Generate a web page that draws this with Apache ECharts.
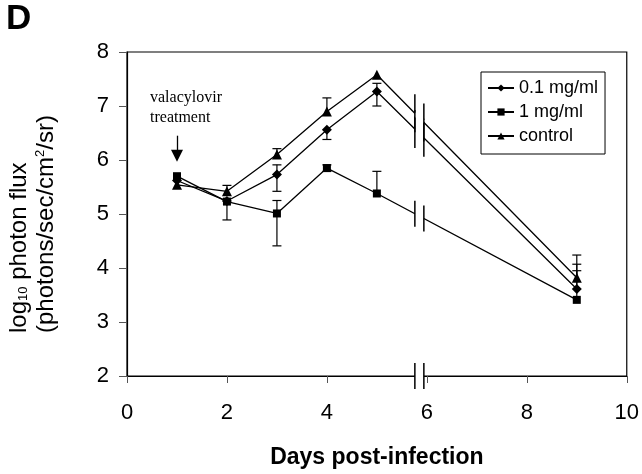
<!DOCTYPE html>
<html>
<head>
<meta charset="utf-8">
<script src="https://cdn.jsdelivr.net/npm/echarts@6/dist/echarts.min.js"></script>
<style>html,body{margin:0;padding:0;background:#fff}#c{width:642px;height:474px}</style>
</head>
<body>
<div id="c"></div>
<script>
// ---- data ----
const days = [1, 2, 3, 4, 5, 9];
const seriesNames = ['0.1 mg/ml', '1 mg/ml', 'control'];
const dose01 = [5.62, 5.24, 5.73, 6.56, 7.27, 3.61];
const dose1 = [5.70, 5.23, 5.01, 5.85, 5.38, 3.41];
const control = [5.54, 5.42, 6.10, 6.90, 7.58, 3.82];
const dose01Up = [0, 0, 0.18, 0, 0.15, 0.46];
const dose01Down = [0, 0, 0.31, 0.18, 0.27, 0];
const dose1Up = [0, 0, 0.24, 0.06, 0.41, 0.54];
const dose1Down = [0, 0.34, 0.60, 0.06, 0, 0];
const controlUp = [0, 0.11, 0.11, 0.25, 0, 0.42];
const controlDown = [0, 0, 0, 0, 0, 0];
const xTicks = [0, 2, 4, 6, 8, 10];
const yTicks = [2, 3, 4, 5, 6, 7, 8];

// ---- rendering ----
const FONT = "'Liberation Sans', Arial, sans-serif";
const SERIF = "'Liberation Serif', 'Times New Roman', serif";
const chart = echarts.init(document.getElementById('c'));

const values = [dose01, dose1, control];
const ups = [dose01Up, dose1Up, controlUp];
const downs = [dose01Down, dose1Down, controlDown];
const symbols = ['diamond', 'rect', 'triangle'];
const symbolSizes = [10, 8, 10];

function errData(k) {
  return days.map((d, i) => [d, values[k][i], ups[k][i], downs[k][i]]);
}

// break marks between day 5 and day 9
const BX1 = 5.76, BX2 = 5.94;
function interp(arr, x) {
  const a = arr[4], b = arr[5];
  return a + (b - a) * (x - days[4]) / (days[5] - days[4]);
}
const breakData = values.map((arr, k) => [BX1, interp(arr, BX1), BX2, interp(arr, BX2), k]);
breakData.push([BX1, yTicks[0], BX2, yTicks[0], 3]);
const breakHalf = [19, 13, 19, 13];

const lineSeries = seriesNames.map((name, k) => ({
  name: name,
  type: 'line',
  data: days.map((d, i) => [d, values[k][i]]),
  symbol: symbols[k],
  symbolSize: symbolSizes[k],
  showAllSymbol: true,
  itemStyle: { color: '#000' },
  lineStyle: { color: '#000', width: 1.3 },
  z: 3
}));

const errSeries = seriesNames.map((name, k) => ({
  type: 'custom',
  data: errData(k),
  z: 4,
  silent: true,
  renderItem: function (params, api) {
    const x = api.value(0), y = api.value(1), up = api.value(2), dn = api.value(3);
    const top = api.coord([x, y + up]);
    const bot = api.coord([x, y - dn]);
    const hw = 4.5;
    const st = { stroke: '#000', lineWidth: 1.2 };
    const ch = [];
    if (up > 0 || dn > 0) {
      ch.push({ type: 'line', shape: { x1: top[0], y1: top[1], x2: bot[0], y2: bot[1] }, style: st });
    }
    if (up > 0) ch.push({ type: 'line', shape: { x1: top[0] - hw, y1: top[1], x2: top[0] + hw, y2: top[1] }, style: st });
    if (dn > 0) ch.push({ type: 'line', shape: { x1: bot[0] - hw, y1: bot[1], x2: bot[0] + hw, y2: bot[1] }, style: st });
    return { type: 'group', children: ch };
  }
}));

const breakSeries = {
  type: 'custom',
  data: breakData,
  z: 6,
  silent: true,
  encode: { x: [0, 2], y: [1, 3] },
  renderItem: function (params, api) {
    const p1 = api.coord([api.value(0), api.value(1)]);
    const p2 = api.coord([api.value(2), api.value(3)]);
    const h = breakHalf[api.value(4)];
    const st = { stroke: '#000', lineWidth: 1.5 };
    return {
      type: 'group',
      children: [
        { type: 'line', shape: { x1: p1[0], y1: p1[1], x2: p2[0], y2: p2[1] }, style: { stroke: '#fff', lineWidth: 5 } },
        { type: 'line', shape: { x1: p1[0], y1: p1[1] - h, x2: p1[0], y2: p1[1] + h }, style: st },
        { type: 'line', shape: { x1: p2[0], y1: p2[1] - h, x2: p2[0], y2: p2[1] + h }, style: st }
      ]
    };
  }
};

// arrow marking the treatment day
lineSeries[2].markLine = {
  silent: true,
  symbol: ['none', 'triangle'],
  symbolSize: 12,
  symbolRotate: 180,
  label: { show: false },
  lineStyle: { color: '#000', width: 1.3, type: 'solid' },
  itemStyle: { color: '#000' },
  emphasis: { disabled: true },
  data: [[{ coord: [days[0], 6.45] }, { coord: [days[0], 6.08] }]]
};

const option = {
  animation: false,
  backgroundColor: '#fff',
  title: {
    text: 'D', left: 6, top: 2, padding: 0,
    textStyle: { fontSize: 35, fontWeight: 'bold', color: '#000', fontFamily: FONT }
  },
  legend: {
    data: seriesNames,
    orient: 'vertical',
    left: 481, top: 72,
    padding: [7, 7, 9, 6],
    itemGap: 6,
    itemWidth: 26,
    itemHeight: 9,
    borderColor: '#000',
    borderWidth: 1,
    textStyle: { fontSize: 18, color: '#000', fontFamily: FONT }
  },
  grid: {
    left: 127, right: 15, top: 52, bottom: 94,
    show: true, borderColor: '#000', borderWidth: 1.2, backgroundColor: 'transparent'
  },
  xAxis: {
    type: 'value', min: xTicks[0], max: xTicks[xTicks.length - 1], interval: 2,
    name: 'Days post-infection', nameLocation: 'middle', nameGap: 70,
    nameTextStyle: { fontSize: 23, fontWeight: 'bold', color: '#000', fontFamily: FONT },
    axisLine: { lineStyle: { color: '#000', width: 1.2 } },
    axisTick: { show: true, inside: false, length: 7, lineStyle: { color: '#555' } },
    axisLabel: { fontSize: 22, color: '#000', margin: 26, fontFamily: FONT },
    splitLine: { show: false }
  },
  yAxis: {
    type: 'value', min: yTicks[0], max: yTicks[yTicks.length - 1], interval: 1,
    axisLine: { show: true, lineStyle: { color: '#000', width: 1.2 } },
    axisTick: { show: true, inside: false, length: 8, lineStyle: { color: '#555' } },
    axisLabel: { fontSize: 22, color: '#000', margin: 18, fontFamily: FONT },
    splitLine: { show: false }
  },
  graphic: [
    {
      type: 'text', x: 33, y: 333, rotation: Math.PI / 2, z: 10,
      style: {
        text: '{a|log}{s|10}{a| photon flux}\n{a|(photons/sec/cm}{p|2}{a|/sr)}',
        align: 'left', verticalAlign: 'middle',
        fill: '#000',
        rich: {
          a: { fontSize: 24, lineHeight: 27, fontFamily: FONT, fill: '#000' },
          s: { fontSize: 13, lineHeight: 27, fontFamily: FONT, fill: '#000', verticalAlign: 'bottom', padding: [0, 0, 3, 0] },
          p: { fontSize: 13, lineHeight: 27, fontFamily: FONT, fill: '#000', verticalAlign: 'top', padding: [1, 0, 0, 0] }
        }
      }
    },
    {
      type: 'text', x: 150, y: 88, z: 10,
      style: {
        text: 'valacylovir\ntreatment',
        fontSize: 16, lineHeight: 20, fontFamily: SERIF, fill: '#000',
        align: 'left', verticalAlign: 'top'
      }
    }
  ],
  series: lineSeries.concat(errSeries).concat([breakSeries])
};

chart.setOption(option);
</script>
</body>
</html>
